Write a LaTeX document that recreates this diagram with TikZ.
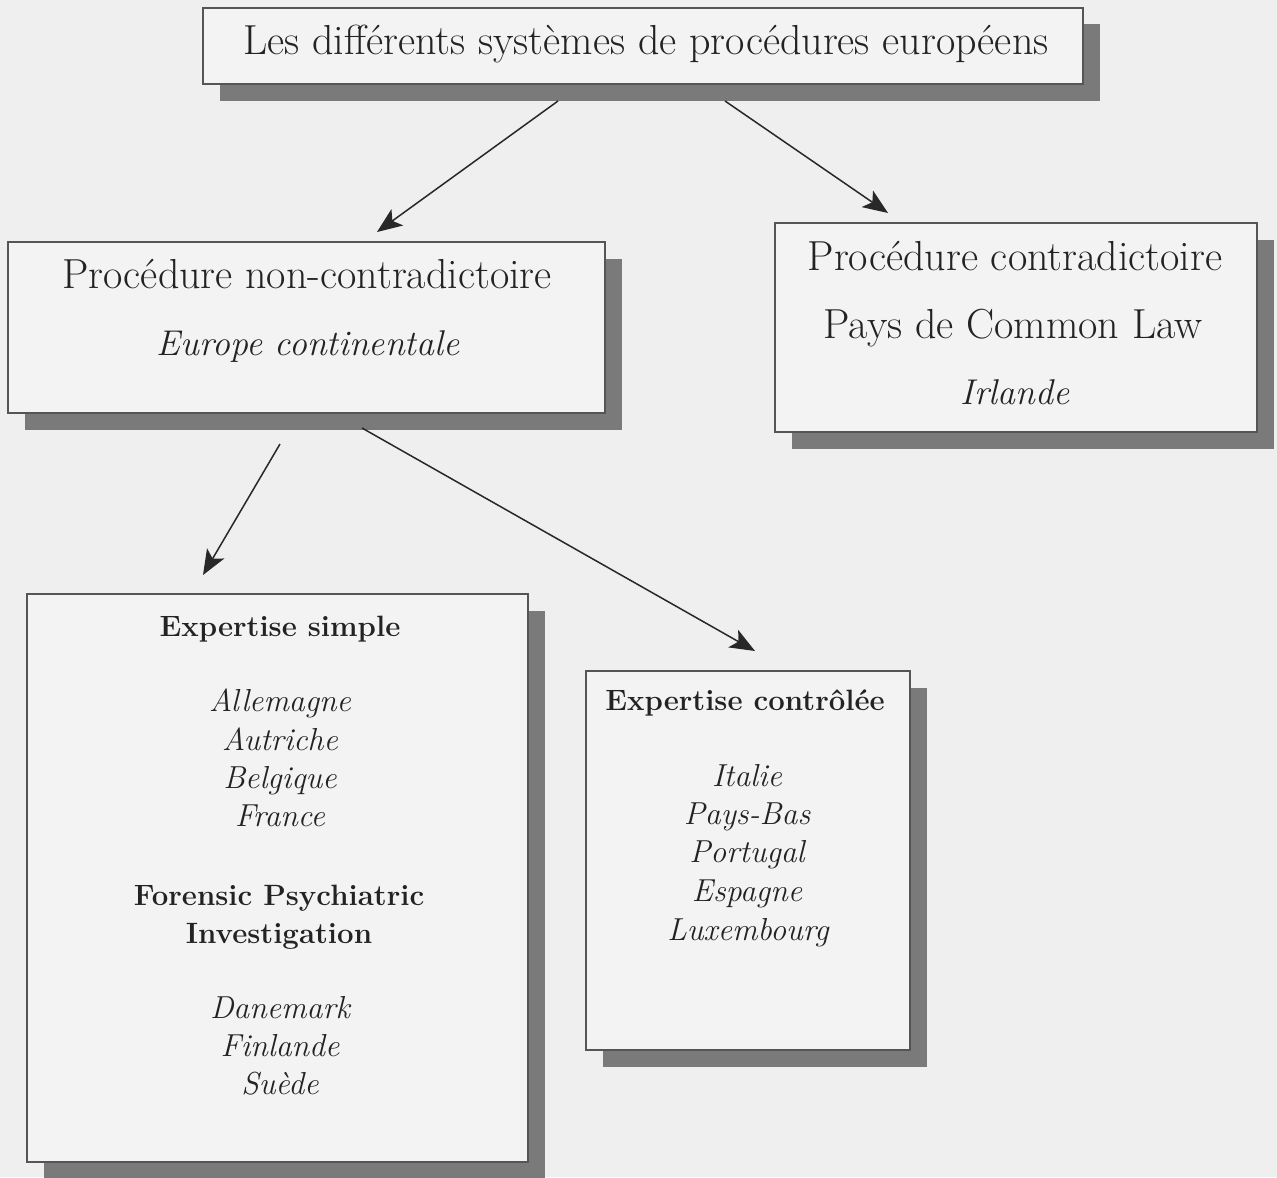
\documentclass[tikz,border=0pt]{standalone}
\usepackage{fontspec}
\usetikzlibrary{shadows,arrows.meta}
\definecolor{bgcol}{RGB}{239,239,239}
\definecolor{boxcol}{RGB}{243,243,243}
\definecolor{bordercol}{RGB}{85,85,85}
\definecolor{shadowcol}{RGB}{122,122,122}
\definecolor{textcol}{RGB}{35,35,35}
\definecolor{arrowcol}{RGB}{40,40,40}
\begin{document}
\begin{tikzpicture}[x=0.5pt,y=-0.5pt,
  box/.style={draw=bordercol, line width=0.9pt, fill=boxcol, inner sep=0pt,
    drop shadow={shadow xshift=8.25pt, shadow yshift=-8.25pt, fill=shadowcol, opacity=1}},
  bigtxt/.style={font=\fontsize{21}{25}\selectfont, anchor=base, inner sep=0pt, text=textcol},
  bigit/.style={font=\fontsize{17.9}{21}\selectfont\itshape, anchor=base, inner sep=0pt, text=textcol},
  boldtxt/.style={font=\fontsize{14.7}{17}\selectfont\bfseries, anchor=base, inner sep=0pt, text=textcol},
  listit/.style={font=\fontsize{15.9}{18}\selectfont\itshape, anchor=base, inner sep=0pt, text=textcol},
  arr/.style={-{Stealth[length=12.5pt,width=10pt,inset=3pt]}, line width=0.75pt, draw=arrowcol}]
\fill[bgcol] (0,0) rectangle (1277,1177);
\useasboundingbox (0,0) rectangle (1277,1177);

% boxes
\node[box, minimum width=440pt, minimum height=38pt] (top) at (643,46) {};
\node[box, minimum width=298.5pt, minimum height=85.5pt] (left) at (306.5,327.5) {};
\node[box, minimum width=241pt, minimum height=104.5pt] (right) at (1016,327.5) {};
\node[box, minimum width=250.5pt, minimum height=284pt] (bl) at (277.5,878) {};
\node[box, minimum width=162pt, minimum height=189.5pt] (br) at (748,860.5) {};

% texts
\node[bigtxt] (ttitle) at (646,55) {Les différents systèmes de procédures européens};
\node[bigtxt] (tl1) at (307,288) {Procédure non-contradictoire};
\node[bigit] (tl2) at (308,355) {Europe continentale};
\node[bigtxt] (tr1) at (1015,270) {Procédure contradictoire};
\node[bigtxt] (tr2) at (1013,338) {Pays de Common Law};
\node[bigit] (tr3) at (1015,404) {Irlande};

\node[boldtxt] (b1) at (280,636) {Expertise simple};
\node[listit] (b2) at (280,711) {Allemagne};
\node[listit] (b3) at (280,750) {Autriche};
\node[listit] (b4) at (280,788) {Belgique};
\node[listit] (b5) at (280,826) {France};
\node[boldtxt] (b6) at (279,905) {Forensic Psychiatric};
\node[boldtxt] (b7) at (279,943) {Investigation};
\node[listit] (b8) at (280,1018) {Danemark};
\node[listit] (b9) at (280,1056) {Finlande};
\node[listit] (b10) at (280,1094) {Suède};

\node[boldtxt] (c1) at (745,710) {Expertise contrôlée};
\node[listit] (c2) at (747,786) {Italie};
\node[listit] (c3) at (747,824) {Pays-Bas};
\node[listit] (c4) at (747,862) {Portugal};
\node[listit] (c5) at (747,901) {Espagne};
\node[listit] (c6) at (748,940) {Luxembourg};

% arrows
\coordinate (a1s) at (558,101); \coordinate (a1e) at (377,232);
\coordinate (a2s) at (725,101); \coordinate (a2e) at (888,213);
\coordinate (a3s) at (280,444); \coordinate (a3e) at (203,575);
\coordinate (a4s) at (362,428); \coordinate (a4e) at (755,651);
\draw[arr] (a1s) -- (a1e);
\draw[arr] (a2s) -- (a2e);
\draw[arr] (a3s) -- (a3e);
\draw[arr] (a4s) -- (a4e);
\end{tikzpicture}
\end{document}
